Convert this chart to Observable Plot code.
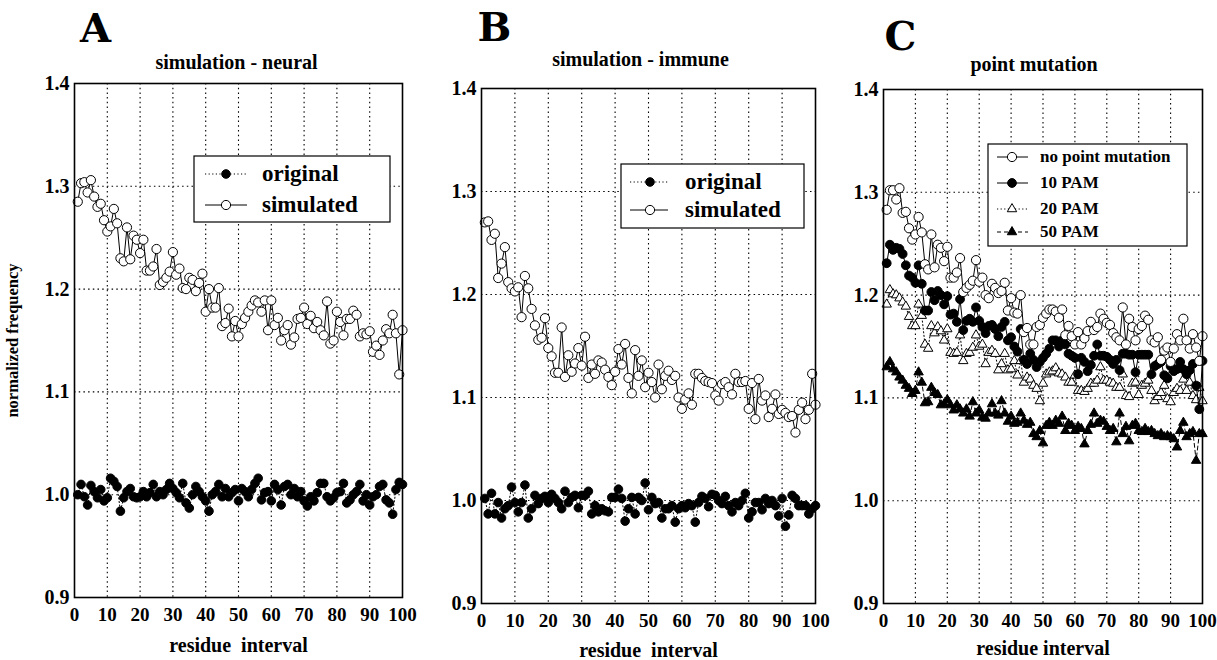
<!DOCTYPE html>
<html><head><meta charset="utf-8">
<script src="https://cdn.jsdelivr.net/npm/d3@7"></script>
<script src="https://cdn.jsdelivr.net/npm/@observablehq/plot@0.6"></script>
<style>
html,body{margin:0;padding:0;background:#fff;}
#wrap{position:relative;width:1217px;height:660px;overflow:hidden;background:#fff;}
#wrap svg{position:absolute;top:0;max-width:none;overflow:visible;background:transparent;}
</style></head><body><div id="wrap"></div>
<script>
// ---- data ----
const residue = d3.range(1, 101);
const xTicks = [0,10,20,30,40,50,60,70,80,90,100];
const yTicks = [0.9,1.0,1.1,1.2,1.3,1.4];
const gridXs = [10,20,30,40,50,60,70,80,90];
const gridYs = [1.0,1.1,1.2,1.3];

const aOriginal = [1.000,1.010,0.998,0.990,1.009,1.003,0.997,1.005,0.994,0.997,
1.016,1.013,1.008,0.984,0.997,1.003,1.006,0.998,0.997,0.998,
1.003,0.998,1.002,1.010,0.998,1.003,1.000,1.005,1.011,1.006,
1.002,0.997,1.011,0.992,0.987,1.000,1.008,1.003,0.998,0.994,
0.984,1.000,1.003,1.010,0.998,1.006,0.998,1.002,1.005,0.994,
1.006,1.003,0.998,1.005,1.011,1.016,0.995,1.002,1.003,0.994,
1.010,1.005,0.990,1.008,1.010,1.000,1.006,0.998,1.003,0.994,
0.989,0.998,0.994,1.002,1.011,1.011,0.998,0.994,0.997,1.002,
1.003,1.011,0.992,0.995,1.000,1.003,1.010,0.994,1.000,0.990,
0.998,1.000,1.008,1.010,0.995,0.992,0.981,1.005,1.012,1.010];

const aSimulated = [1.285,1.303,1.304,1.294,1.306,1.290,1.280,1.283,1.267,1.256,
1.261,1.278,1.264,1.230,1.227,1.260,1.229,1.252,1.248,1.235,
1.248,1.218,1.218,1.222,1.239,1.204,1.207,1.211,1.217,1.236,
1.214,1.220,1.201,1.200,1.211,1.209,1.198,1.206,1.215,1.178,
1.200,1.182,1.182,1.201,1.164,1.167,1.181,1.154,1.169,1.154,
1.166,1.172,1.178,1.184,1.189,1.187,1.178,1.189,1.160,1.189,
1.165,1.172,1.150,1.160,1.165,1.146,1.153,1.171,1.172,1.182,
1.166,1.174,1.162,1.168,1.160,1.155,1.188,1.147,1.150,1.178,
1.168,1.155,1.171,1.171,1.179,1.175,1.154,1.157,1.156,1.159,
1.139,1.145,1.136,1.150,1.161,1.157,1.175,1.157,1.117,1.160];

const bOriginal = [1.002,0.987,1.007,0.987,0.998,0.983,0.992,0.995,1.013,0.998,
0.989,0.998,1.015,0.983,0.992,1.005,0.997,1.002,1.004,0.998,
1.006,1.002,0.998,0.992,1.009,0.998,1.003,1.005,0.993,1.005,
1.005,1.009,0.987,0.995,0.989,0.992,0.990,0.989,1.003,1.003,
1.011,1.002,0.980,0.992,1.003,0.987,1.003,1.000,1.017,0.991,
1.003,0.997,0.998,0.983,0.992,0.992,0.995,0.979,0.992,0.995,
0.993,0.997,0.995,0.979,0.998,1.004,1.002,0.994,1.006,1.005,
1.000,0.997,1.004,0.995,0.989,0.998,0.995,1.000,1.007,0.983,
0.989,0.998,0.998,0.991,1.002,0.997,1.000,0.995,0.985,1.002,
0.975,0.986,1.005,1.002,0.995,0.995,0.995,0.987,0.992,0.995];

const bSimulated = [1.270,1.271,1.253,1.259,1.216,1.230,1.246,1.212,1.206,1.203,
1.207,1.178,1.218,1.206,1.186,1.170,1.156,1.158,1.177,1.148,
1.140,1.124,1.124,1.168,1.120,1.141,1.125,1.133,1.148,1.131,
1.159,1.119,1.132,1.123,1.136,1.134,1.127,1.120,1.112,1.125,
1.147,1.132,1.152,1.119,1.104,1.146,1.121,1.136,1.110,1.124,
1.115,1.100,1.132,1.108,1.121,1.126,1.117,1.121,1.100,1.089,
1.098,1.104,1.093,1.123,1.123,1.119,1.116,1.115,1.114,1.102,
1.097,1.113,1.115,1.110,1.103,1.123,1.115,1.115,1.116,1.089,
1.114,1.079,1.118,1.097,1.102,1.081,1.089,1.103,1.084,1.088,
1.085,1.081,1.082,1.066,1.088,1.095,1.079,1.088,1.123,1.093];

const cNoMutation = [1.283,1.302,1.302,1.293,1.304,1.280,1.281,1.265,1.254,1.259,
1.276,1.261,1.230,1.225,1.259,1.227,1.249,1.246,1.233,1.247,
1.217,1.217,1.222,1.236,1.203,1.207,1.210,1.214,1.234,1.213,
1.217,1.200,1.197,1.211,1.207,1.202,1.204,1.212,1.185,1.197,
1.183,1.182,1.200,1.164,1.168,1.152,1.152,1.169,1.171,1.178,
1.182,1.186,1.186,1.184,1.178,1.186,1.161,1.170,1.160,1.152,
1.164,1.152,1.158,1.165,1.174,1.166,1.169,1.182,1.177,1.173,
1.171,1.163,1.159,1.156,1.188,1.152,1.177,1.169,1.156,1.167,
1.170,1.180,1.176,1.156,1.154,1.159,1.137,1.146,1.149,1.135,
1.148,1.162,1.156,1.177,1.156,1.148,1.162,1.149,1.136,1.160];

const cPam10 = [1.231,1.249,1.244,1.246,1.245,1.240,1.229,1.219,1.217,1.212,
1.229,1.211,1.185,1.185,1.203,1.195,1.204,1.200,1.191,1.199,
1.181,1.182,1.174,1.196,1.166,1.175,1.177,1.174,1.188,1.175,
1.169,1.163,1.170,1.171,1.167,1.160,1.169,1.174,1.156,1.159,
1.150,1.145,1.167,1.137,1.133,1.143,1.137,1.130,1.135,1.139,
1.143,1.148,1.156,1.156,1.150,1.156,1.152,1.143,1.141,1.139,
1.123,1.139,1.135,1.126,1.132,1.141,1.152,1.141,1.141,1.140,
1.137,1.133,1.137,1.127,1.143,1.143,1.142,1.142,1.125,1.142,
1.142,1.142,1.142,1.123,1.131,1.133,1.135,1.122,1.119,1.131,
1.126,1.128,1.135,1.128,1.123,1.127,1.133,1.112,1.089,1.136];

const cPam20 = [1.191,1.205,1.201,1.200,1.197,1.193,1.189,1.179,1.170,1.170,
1.191,1.180,1.152,1.148,1.170,1.163,1.169,1.165,1.156,1.167,
1.144,1.143,1.144,1.161,1.136,1.143,1.144,1.149,1.161,1.150,
1.152,1.133,1.144,1.146,1.143,1.127,1.133,1.143,1.127,1.128,
1.136,1.122,1.136,1.115,1.120,1.118,1.112,1.109,1.097,1.114,
1.123,1.125,1.126,1.129,1.124,1.123,1.120,1.115,1.115,1.122,
1.107,1.107,1.106,1.109,1.114,1.114,1.117,1.130,1.117,1.117,
1.115,1.114,1.110,1.110,1.123,1.102,1.101,1.114,1.115,1.103,
1.112,1.114,1.117,1.107,1.097,1.101,1.105,1.112,1.099,1.096,
1.105,1.109,1.107,1.118,1.107,1.115,1.102,1.098,1.110,1.097];

const cPam50 = [1.130,1.135,1.128,1.125,1.120,1.117,1.112,1.109,1.104,1.107,
1.125,1.115,1.095,1.096,1.110,1.105,1.103,1.093,1.094,1.098,
1.093,1.088,1.093,1.089,1.085,1.089,1.082,1.096,1.085,1.088,
1.081,1.080,1.085,1.094,1.085,1.083,1.097,1.085,1.077,1.082,
1.075,1.076,1.085,1.078,1.074,1.076,1.065,1.062,1.068,1.056,
1.073,1.076,1.073,1.078,1.075,1.082,1.068,1.075,1.073,1.068,
1.072,1.070,1.055,1.068,1.074,1.085,1.075,1.078,1.077,1.072,
1.068,1.070,1.057,1.085,1.065,1.072,1.058,1.073,1.075,1.068,
1.067,1.070,1.067,1.068,1.065,1.063,1.065,1.062,1.063,1.062,
1.060,1.052,1.068,1.076,1.062,1.065,1.067,1.039,1.065,1.065];

const panelLetters = ["A", "B", "C"];
const panelTitles = ["simulation - neural", "simulation - immune", "point mutation"];
const xLabels = ["residue  interval", "residue  interval", "residue interval"];
const yLabel = "normalized frequency";
const legendA = ["original", "simulated"];
const legendB = ["original", "simulated"];
const legendC = ["no point mutation", "10 PAM", "20 PAM", "50 PAM"];

// ---- styles ----
const DOT = "1.2,2.4";
const sty = {
  original:  {symbol: "circle",   fill: "black", dash: DOT,   r: 4.3},
  simulated: {symbol: "circle",   fill: "white", dash: null,  r: 4.6},
  pam10:     {symbol: "circle",   fill: "black", dash: null,  r: 4.4},
  pam20:     {symbol: "triangle", fill: "white", dash: DOT,   r: 3.5},
  pam50:     {symbol: "triangle", fill: "black", dash: "4,3", r: 3.5}
};
const SERIF = "'Liberation Serif','Times New Roman',serif";
const gridStyle = {stroke: "black", strokeOpacity: 1, strokeWidth: 1.1, strokeDasharray: "1.5,3.2"};

function seriesMarks(values, st) {
  const data = residue.map((x, i) => ({x, v: values[i]}));
  const lineOpts = {x: "x", y: "v", stroke: "black", strokeWidth: 1};
  if (st.dash) lineOpts.strokeDasharray = st.dash;
  return [
    Plot.line(data, lineOpts),
    Plot.dot(data, {x: "x", y: "v", r: st.r, symbol: st.symbol, fill: st.fill, stroke: "black", strokeWidth: 1})
  ];
}

function panel(cfg) {
  const marks = [
    Plot.gridX(gridXs, gridStyle),
    Plot.gridY(gridYs, gridStyle),
    Plot.axisX(xTicks, {tickSize: 0, tickPadding: 10, fontSize: 19, fontWeight: "bold", label: null}),
    Plot.axisY(yTicks, {tickSize: 0, tickPadding: 5, fontSize: 20, fontWeight: "bold", tickFormat: d3.format(".1f"), label: null}),
    ...cfg.series.flatMap(([vals, st]) => seriesMarks(vals, st)),
    Plot.frame({stroke: "black", strokeWidth: 1.6}),
    Plot.text([cfg.letter], {text: d => d, frameAnchor: "top-left", dx: cfg.letterDx, dy: cfg.letterDy,
      lineAnchor: "middle", fontFamily: "'DejaVu Serif',serif", fontWeight: "bold", fontSize: 40, textAnchor: "middle"}),
    Plot.text([cfg.title], {text: d => d, frameAnchor: "top", dx: cfg.titleDx, dy: cfg.titleDy,
      lineAnchor: "middle", textAnchor: "middle", fontSize: 20, fontWeight: "bold"}),
    Plot.text([cfg.xlabel], {text: d => d, frameAnchor: "bottom", dy: cfg.xlabelDy,
      lineAnchor: "middle", textAnchor: "middle", fontSize: 20, fontWeight: "bold"})
  ];
  if (cfg.ylabel) marks.push(Plot.text([cfg.ylabel], {text: d => d, frameAnchor: "left", rotate: -90, dx: -62,
    lineAnchor: "middle", textAnchor: "middle", fontSize: 16.5, fontWeight: "bold"}));
  const svg = Plot.plot({
    width: cfg.width, height: 660,
    marginLeft: cfg.mL, marginRight: cfg.mR, marginTop: cfg.mT, marginBottom: cfg.mB,
    x: {domain: [0, 100]},
    y: {domain: [0.9, 1.4]},
    style: {fontFamily: SERIF, color: "black", background: "transparent", overflow: "visible"},
    marks
  });
  svg.style.left = cfg.left + "px";
  return svg;
}

const wrap = document.getElementById("wrap");
wrap.appendChild(panel({left: 0, width: 410, mL: 74, mR: 8, mT: 83, mB: 63,
  letter: panelLetters[0], letterDx: 21, letterDy: -54, title: panelTitles[0], titleDx: -2, titleDy: -21,
  xlabel: xLabels[0], xlabelDy: 48, ylabel: yLabel,
  series: [[aOriginal, sty.original], [aSimulated, sty.simulated]]}));
wrap.appendChild(panel({left: 410, width: 410, mL: 71, mR: 5, mT: 88, mB: 57,
  letter: panelLetters[1], letterDx: 13, letterDy: -60, title: panelTitles[1], titleDx: -8, titleDy: -29,
  xlabel: xLabels[1], xlabelDy: 47,
  series: [[bOriginal, sty.original], [bSimulated, sty.simulated]]}));
wrap.appendChild(panel({left: 820, width: 397, mL: 63, mR: 15, mT: 89, mB: 57,
  letter: panelLetters[2], letterDx: 17, letterDy: -52, title: panelTitles[2], titleDx: -9, titleDy: -25,
  xlabel: xLabels[2], xlabelDy: 45,
  series: [[cPam50, sty.pam50], [cPam20, sty.pam20], [cPam10, sty.pam10], [cNoMutation, sty.simulated]]}));

// ---- legends (overlay) ----
const overlay = d3.select(wrap).append("svg").attr("width", 1217).attr("height", 660)
  .style("left", "0px").style("pointer-events", "none");
function legend(labels, styles, L) {
  const g = overlay.append("g");
  g.append("rect").attr("x", L.box[0]).attr("y", L.box[1]).attr("width", L.box[2] - L.box[0])
    .attr("height", L.box[3] - L.box[1]).attr("fill", "white").attr("stroke", "black").attr("stroke-width", 1.2);
  labels.forEach((lab, i) => {
    const st = styles[i], y = L.rows[i];
    g.append("line").attr("x1", L.line[0]).attr("x2", L.line[1]).attr("y1", y).attr("y2", y)
      .attr("stroke", "black").attr("stroke-width", 1).attr("stroke-dasharray", st.dash || null);
    const sym = st.symbol === "triangle" ? d3.symbolTriangle : d3.symbolCircle;
    g.append("path").attr("d", d3.symbol(sym, Math.PI * st.r * st.r)())
      .attr("transform", `translate(${L.mark},${y})`).attr("fill", st.fill).attr("stroke", "black");
    g.append("text").attr("x", L.text).attr("y", y).attr("dy", "0.32em").text(lab)
      .attr("font-family", SERIF).attr("font-weight", "bold").attr("font-size", L.font);
  });
}
legend(legendA, [sty.original, sty.simulated],
  {box: [194, 156, 390, 222], rows: [174, 205], line: [205, 247], mark: 226, text: 262, font: 23});
legend(legendB, [sty.original, sty.simulated],
  {box: [621, 164, 804, 228], rows: [182, 210], line: [630, 668], mark: 650, text: 685, font: 23});
legend(legendC, [sty.simulated, sty.pam10, sty.pam20, sty.pam50],
  {box: [988, 144, 1187, 246], rows: [157, 183, 209, 232], line: [997, 1028], mark: 1012, text: 1040, font: 17});
</script></body></html>
